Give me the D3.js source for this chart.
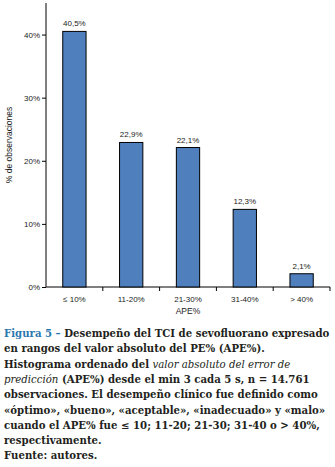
<!DOCTYPE html>
<html>
<head>
<meta charset="utf-8">
<script src="https://cdn.jsdelivr.net/npm/d3@7"></script>
<style>
  body { margin: 0; background: #fff; }
  svg { display: block; }
  .axis text { font-family: "Liberation Sans", Arial, sans-serif; font-size: 8px; fill: #222; }
  .axis path, .axis line { stroke: #000; }
</style>
</head>
<body>
<svg id="chart" width="335" height="467"></svg>
<script>
const categories = ["≤ 10%", "11-20%", "21-30%", "31-40%", "> 40%"];
const values = [40.5, 22.9, 22.1, 12.3, 2.1];
const valueLabels = ["40,5%", "22,9%", "22,1%", "12,3%", "2,1%"];
const yTicks = [0, 10, 20, 30, 40];

const svg = d3.select("#chart");

const size = { x: 335, y: 467 };
const plot = { left: 46, right: 330, top: 3, bottom: 287 };

const scale = {
    x: d3.scaleBand(categories, [plot.left, plot.right]),
    y: d3.scaleLinear([0, 45], [plot.bottom, plot.top]),
}
const barWidth = scale.x.bandwidth() * 0.41;

// y axis
svg.append("g")
    .attr("class", "axis")
    .attr("transform", `translate(${plot.left}, 0)`)
    .call(d3.axisLeft(scale.y).tickValues(yTicks).tickFormat(d => d + "%").tickSize(4).tickSizeOuter(0).tickPadding(2))
    .call(g => g.select(".domain").attr("d", `M0,${plot.bottom}V${plot.top}`));

// x axis
const xAxis = svg.append("g")
    .attr("class", "axis")
    .attr("transform", `translate(0, ${plot.bottom})`)
    .call(d3.axisBottom(scale.x).tickSize(0).tickPadding(9));
xAxis.select(".domain").attr("d", `M${plot.left},0H${plot.right}`);
// separators between categories
xAxis.selectAll(".sep")
    .data(categories)
    .enter()
    .append("line")
    .attr("x1", d => scale.x(d) + scale.x.bandwidth())
    .attr("x2", d => scale.x(d) + scale.x.bandwidth())
    .attr("y1", 0)
    .attr("y2", 4)
    .attr("stroke", "#000");

// bars
svg.selectAll("rect.bar")
    .data(values)
    .enter()
    .append("rect")
    .attr("class", "bar")
    .attr("x", (d, i) => scale.x(categories[i]) + (scale.x.bandwidth() - barWidth) / 2)
    .attr("y", d => scale.y(d))
    .attr("width", barWidth)
    .attr("height", d => plot.bottom - scale.y(d))
    .attr("fill", "#4f7fbd")
    .attr("stroke", "#000")
    .attr("stroke-width", 1);

svg.selectAll("text.val")
    .data(values)
    .enter()
    .append("text")
    .attr("class", "val")
    .attr("x", (d, i) => scale.x(categories[i]) + scale.x.bandwidth() / 2)
    .attr("y", d => scale.y(d) - 5)
    .attr("text-anchor", "middle")
    .style("font-family", "'Liberation Sans', Arial, sans-serif")
    .style("font-size", "8px")
    .style("fill", "#222")
    .text((d, i) => valueLabels[i]);

// axis titles
svg.append("text")
    .attr("transform", `translate(12, ${(plot.top + plot.bottom) / 2}) rotate(-90)`)
    .attr("text-anchor", "middle")
    .style("font-family", "'Liberation Sans', Arial, sans-serif")
    .style("font-size", "8.5px")
    .style("fill", "#222")
    .text("% de observaciones");

svg.append("text")
    .attr("x", (plot.left + plot.right) / 2)
    .attr("y", 314)
    .attr("text-anchor", "middle")
    .style("font-family", "'Liberation Sans', Arial, sans-serif")
    .style("font-size", "8.5px")
    .style("fill", "#222")
    .text("APE%");

// caption
const caption = [
    [["Figura 5 – ", "blue"], ["Desempeño del TCI de sevofluorano expresado"]],
    [["en rangos del valor absoluto del PE% (APE%)."]],
    [["Histograma ordenado del "], ["valor absoluto del error de", "italic"]],
    [["predicción", "italic"], [" (APE%) desde el min 3 cada 5 s, n = 14.761"]],
    [["observaciones. El desempeño clínico fue definido como"]],
    [["«óptimo», «bueno», «aceptable», «inadecuado» y «malo»"]],
    [["cuando el APE% fue ≤ 10; 11-20; 21-30; 31-40 o > 40%,"]],
    [["respectivamente."]],
    [["Fuente: autores."]],
];

const cap = svg.append("g")
    .style("font-family", "'DejaVu Serif', 'Liberation Serif', serif")
    .style("font-weight", "bold")
    .style("font-size", "10px")
    .style("fill", "#231f20");

caption.forEach((line, i) => {
    const t = cap.append("text")
        .attr("x", 4)
        .attr("y", 337 + i * 15.3);
    line.forEach(([txt, kind]) => {
        const s = t.append("tspan").text(txt);
        if (kind === "blue") s.style("fill", "#2a78b0");
        if (kind === "italic") s.style("font-style", "italic").style("font-weight", "normal");
    });
});

// fit caption font so the first line spans the same width as in the print
const first = cap.select("text").node().getComputedTextLength();
const fs = 10 * 326 / first;
cap.style("font-size", fs + "px");
</script>
</body>
</html>
